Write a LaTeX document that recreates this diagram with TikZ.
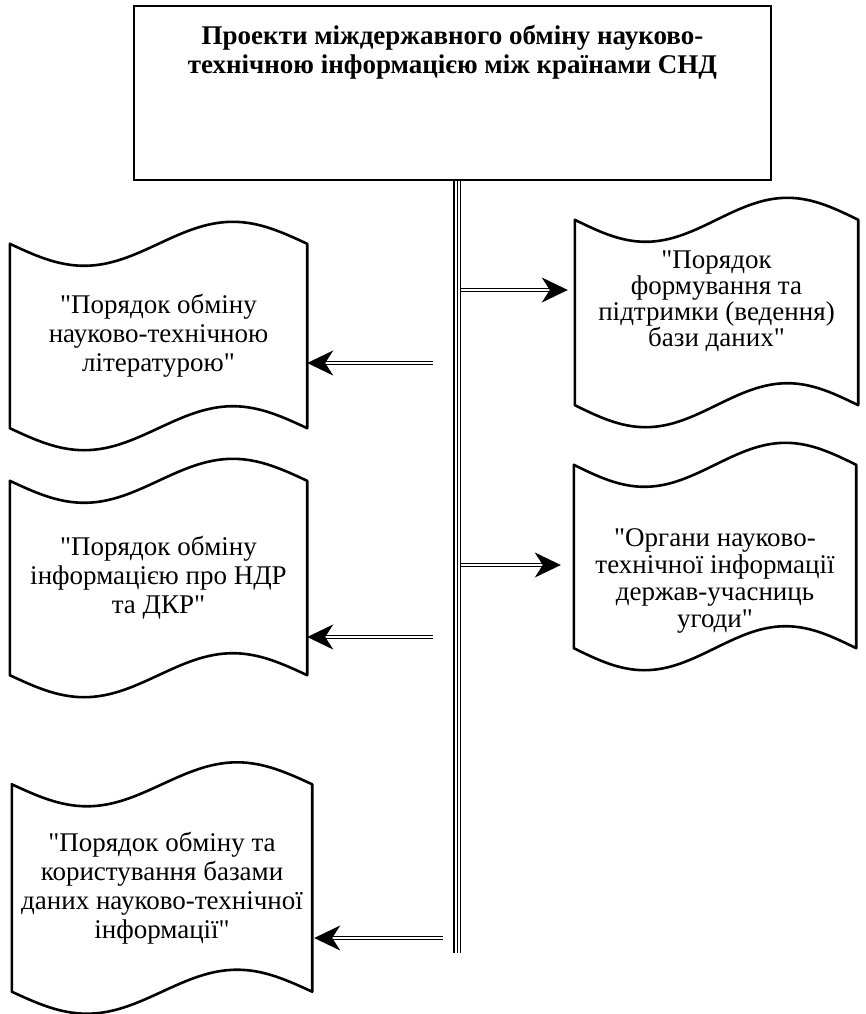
\documentclass[tikz,border=0pt]{standalone}
\usepackage{fontspec}
\setmainfont{Liberation Serif}[Ligatures=TeXOff]
\usetikzlibrary{arrows.meta,calc}

\begin{document}
\begin{tikzpicture}[
  x=1pt, y=-1pt,
  title/.style={draw, rectangle, line width=1.6pt, minimum width=637pt, anchor=north, inner sep=19pt, text depth=88pt, align=center, font=\fontsize{27}{29}\selectfont\bfseries},
  tape/.style={rectangle, inner sep=0pt, align=center, font=\fontsize{27}{29}\selectfont},
  tapeline/.style={line width=2.6pt, line join=round},
  spine/.style={double, double distance=5pt, line width=1.5pt},
  arrow/.style={double, double distance=1.2pt, line width=1.6pt, -{Stealth[length=26pt, width=25pt, inset=8pt]}}
]
\useasboundingbox (0,0) rectangle (865,1014);
\node[title] (title) at (452.5,5) {Проекти міждержавного обміну науково-\\технічною інформацією між країнами СНД};
\node[tape, minimum width=297pt, minimum height=184pt] (lit) at (158.5,336) {"Порядок обміну\\науково-технічною\\літературою"};
\node[tape, minimum width=297pt, minimum height=194pt] (ndr) at (158.5,578) {"Порядок обміну\\інформацією про НДР\\та ДКР"};
\node[tape, minimum width=300pt, minimum height=207pt] (bd) at (162,888) {"Порядок обміну та\\користування базами\\даних науково-технічної\\інформації"};
\node[tape, minimum width=283pt, minimum height=185pt, text depth=27pt, font=\fontsize{27}{26}\selectfont] (form) at (716.5,312.5) {"Порядок\\формування та\\підтримки (ведення)\\бази даних"};
\node[tape, minimum width=282pt, minimum height=183pt, text height=147pt, font=\fontsize{27}{27}\selectfont] (org) at (715,556.5) {"Органи науково-\\технічної інформації\\держав-учасниць\\угоди"};
\foreach \n in {lit,ndr,bd,form,org}
  \draw[tapeline] (\n.north west)
    sin ($(\n.north west)!.25!(\n.north east)+(0,22)$) cos ($(\n.north west)!.5!(\n.north east)$)
    sin ($(\n.north west)!.75!(\n.north east)+(0,-22)$) cos (\n.north east)
    -- (\n.south east)
    sin ($(\n.south west)!.75!(\n.south east)+(0,-22)$) cos ($(\n.south west)!.5!(\n.south east)$)
    sin ($(\n.south west)!.25!(\n.south east)+(0,22)$) cos (\n.south west)
    -- cycle;
\coordinate (spinebot) at (457,953);
\draw[spine] (title.south -| spinebot) -- (spinebot);
\draw[line width=0.9pt] (title.south -| spinebot) -- (spinebot);
\coordinate (r1) at (461,290);
\coordinate (r2) at (461,565);
\coordinate (l1) at (433,363);
\coordinate (l2) at (433,637);
\coordinate (l3) at (443,938);
\draw[arrow, shorten >=7pt] (r1) -- (r1 -| form.west);
\draw[arrow, shorten >=13pt] (r2) -- (r2 -| org.west);
\draw[arrow] (l1) -- (l1 -| lit.east);
\draw[arrow] (l2) -- (l2 -| ndr.east);
\draw[arrow, shorten >=2pt] (l3) -- (l3 -| bd.east);
\end{tikzpicture}
\end{document}
